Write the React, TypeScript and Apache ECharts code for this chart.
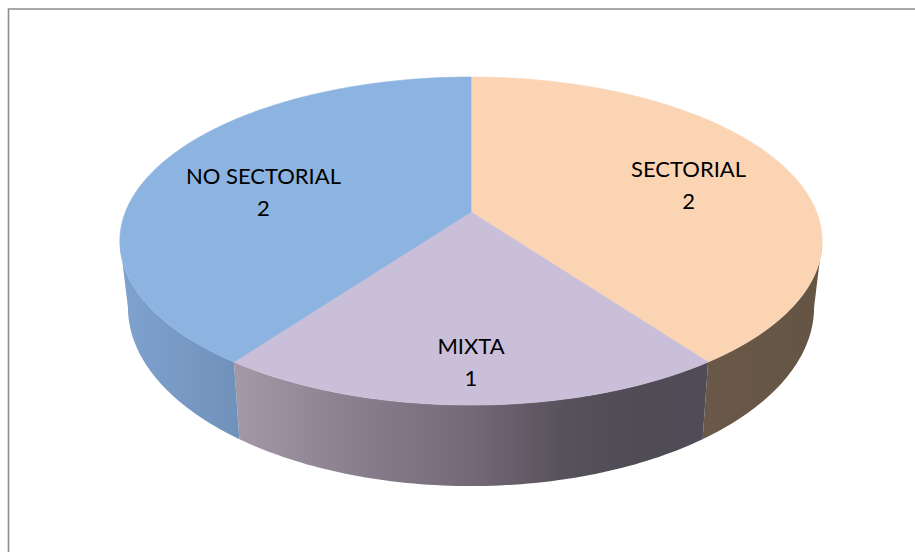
import React, { useEffect, useRef } from "react";
import * as echarts from "echarts";

const categories = ["SECTORIAL", "MIXTA", "NO SECTORIAL"];
const values = [2, 1, 2];

const topColors = ["#FBD4B4", "#C9BFD9", "#8DB3E0"];
const sideStops: number[][] = [
  [0, 1],
  [0, 0.25, 0.5, 0.7, 0.85, 1],
  [0, 1],
];
const sideColors: string[][] = [
  ["#6A5948", "#645443"],
  ["#A499A6", "#8A7F8E", "#746977", "#56515B", "#4F4C55", "#4F4C58"],
  ["#7FA2CF", "#7091BA"],
];

// perspective model of the pie's top disc
const CX = 471;
const CY = 212;
const R = 345.6;
const PA = 158.9;
const PB = 0.177;
const SHRINK = 0.977;
const LABEL_R = [0.69, 0.8, 0.69];
const LABEL_NUDGE = [[-1, 5], [0, 1], [11, 12]];
const VISIBLE_FROM = (Math.acos(-PB) * 180) / Math.PI;

function project(deg: number, r = 1): number[] {
  const t = (deg * Math.PI) / 180;
  const x = Math.sin(t) * r;
  const z = Math.cos(t) * r;
  const d = 1 + PB * z;
  return [CX + (R * x) / d, CY - (PA * z) / d];
}

function lower(p: number[]): number[] {
  return [CX + (p[0] - CX) * SHRINK, 486 + 1.09 * (p[1] - 405)];
}

function arc(from: number, to: number): number[][] {
  const n = Math.max(2, Math.ceil(Math.abs(to - from)));
  const pts: number[][] = [];
  for (let i = 0; i <= n; i++) pts.push(project(from + ((to - from) * i) / n));
  return pts;
}

const total = values.reduce((a, b) => a + b, 0);

function renderSlice(params: any, api: any) {
  const i = params.dataIndex;
  const before = values.slice(0, i).reduce((a, b) => a + b, 0);
  const start = (before / total) * 360;
  const end = start + (Number(api.value(0)) / total) * 360;
  const mid = (start + end) / 2;
  const children: any[] = [];

  const from = Math.max(start, VISIBLE_FROM);
  const to = Math.min(end, 360 - VISIBLE_FROM);
  if (to > from) {
    const rim = arc(from, to);
    const low = rim.map(lower).reverse();
    children.push({
      type: "polygon",
      z2: 1,
      shape: { points: rim.concat(low) },
      style: {
        fill: new echarts.graphic.LinearGradient(
          0, 0, 1, 0,
          sideColors[i].map((color, k) => ({ offset: sideStops[i][k], color }))
        ),
      },
    });
  }
  children.push({
    type: "polygon",
    z2: 2,
    shape: { points: [[CX, CY], ...arc(start, end)] },
    style: { fill: topColors[i], stroke: topColors[i], lineWidth: 0.6 },
  });
  const lp = project(mid, LABEL_R[i]);
  children.push({
    type: "text",
    z2: 3,
    style: {
      text: `${categories[i]}\n${values[i]}`,
      x: lp[0] + LABEL_NUDGE[i][0],
      y: lp[1] + LABEL_NUDGE[i][1],
      align: "center",
      verticalAlign: "middle",
      fontFamily: "Lato",
      fontSize: 22,
      lineHeight: 32,
      fill: "#000000",
    },
  });
  return { type: "group", children };
}

export default function App() {
  const ref = useRef<HTMLDivElement>(null);
  useEffect(() => {
    const chart = echarts.init(ref.current!, undefined, { renderer: "svg" });
    chart.setOption({
      animation: false,
      backgroundColor: "#FFFFFF",
      graphic: [
        {
          type: "rect",
          shape: { x: 8.5, y: 9, width: 930, height: 570 },
          style: { fill: "none", stroke: "#8C8C8C", lineWidth: 1.6 },
          silent: true,
        },
      ],
      series: [
        {
          type: "custom",
          coordinateSystem: "none",
          silent: true,
          renderItem: renderSlice,
          data: values.map((v, i) => ({ name: categories[i], value: [v] })),
        },
      ],
    });
    return () => chart.dispose();
  }, []);
  return (
    <div
      ref={ref}
      style={{ position: "absolute", left: 0, top: 0, width: 915, height: 552 }}
    />
  );
}
